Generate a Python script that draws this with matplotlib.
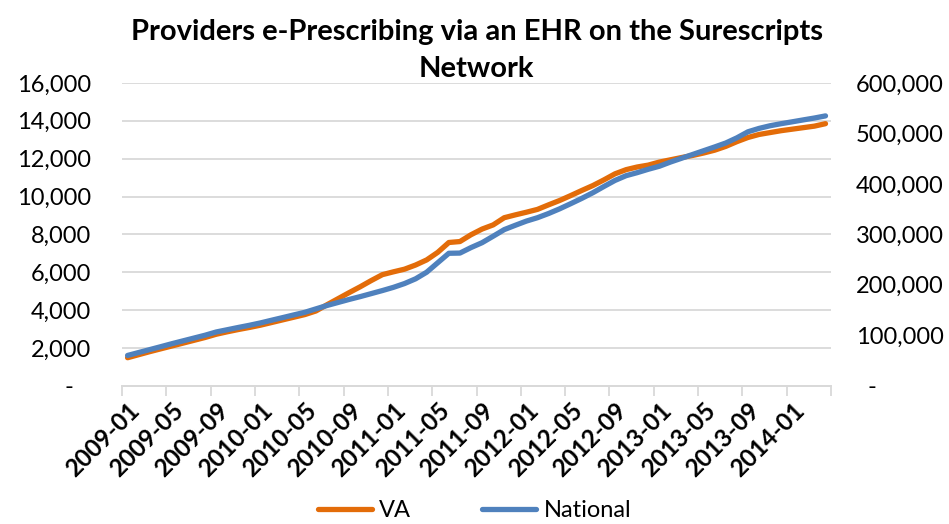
import matplotlib
matplotlib.use("Agg")
import matplotlib.pyplot as plt
import matplotlib.transforms as mtransforms
from matplotlib.ticker import FuncFormatter, MultipleLocator, FixedLocator

plt.rcParams["font.family"] = ["Lato", "DejaVu Sans"]

# monthly values, 2009-01 .. 2014-04
va = [1480, 1640, 1800, 1950, 2100, 2250, 2400, 2550, 2720, 2850,
      2970, 3080, 3200, 3340, 3480, 3620, 3760, 3950, 4280, 4600,
      4920, 5230, 5560, 5870, 6020, 6160, 6380, 6650, 7050, 7570,
      7620, 7980, 8280, 8500, 8880, 9030, 9170, 9320, 9560, 9790,
      10050, 10320, 10580, 10880, 11200, 11420, 11560, 11660, 11820, 11940,
      12060, 12170, 12300, 12450, 12650, 12900, 13120, 13280, 13380, 13480,
      13560, 13640, 13720, 13850]
national = [60000, 65800, 71600, 77400, 83300, 88900, 94500, 100100, 106500, 111000,
            115500, 119800, 124500, 129800, 135000, 140300, 145500, 152300, 159000, 165000,
            171000, 176600, 182600, 188600, 195000, 202500, 211900, 225000, 243800, 262500,
            262900, 273800, 283500, 296300, 309400, 318000, 326300, 333000, 341300, 350600,
            360800, 371300, 382500, 394900, 406900, 416300, 422300, 429000, 435000, 443300,
            450800, 458300, 465800, 473300, 481100, 491300, 503300, 510000, 515300, 519400,
            523100, 526900, 530600, 534800]
tick_labels = ["2009-01", "2009-05", "2009-09", "2010-01", "2010-05", "2010-09",
               "2011-01", "2011-05", "2011-09", "2012-01", "2012-05", "2012-09",
               "2013-01", "2013-05", "2013-09", "2014-01"]

VA_COLOR = "#E36C09"
NAT_COLOR = "#4F81BD"
GRID = "#D9D9D9"
FS = 17

fig = plt.figure(figsize=(9.49, 5.24), dpi=100)
ax = fig.add_axes([0.1286, 0.2639, 0.7471, 0.5777])
ax2 = ax.twinx()

x = list(range(len(va)))
ax.plot(x, va, color=VA_COLOR, lw=3.8, solid_capstyle="round", label="VA")
ax2.plot(x, national, color=NAT_COLOR, lw=3.8, solid_capstyle="round", label="National")

ax.set_xlim(-0.5, len(va) - 0.5)
ax.set_ylim(0, 16000)
ax2.set_ylim(0, 600000)

ax.yaxis.set_major_locator(MultipleLocator(2000))
ax2.yaxis.set_major_locator(MultipleLocator(100000))
ax.yaxis.set_major_formatter(FuncFormatter(lambda v, p: f"{v:,.0f}" if v else "-   "))
ax2.yaxis.set_major_formatter(FuncFormatter(lambda v, p: f"{v:,.0f}" if v else "  -"))
ax.grid(axis="y", color=GRID, lw=1.3)
ax.set_axisbelow(True)

# category axis: labels on every 4th month, tick marks between categories
ax.xaxis.set_major_locator(FixedLocator(list(range(0, len(va), 4))))
ax.set_xticklabels(tick_labels, rotation=45, ha="right", rotation_mode="anchor",
                   fontsize=17.5, fontweight="bold")
shift = mtransforms.ScaledTranslation(6 / 100, 0, fig.dpi_scale_trans)
for lbl in ax.get_xticklabels():
    lbl.set_transform(lbl.get_transform() + shift)
ax.xaxis.set_minor_locator(FixedLocator([i - 0.5 for i in range(0, len(va) + 1, 4)]))
ax.tick_params(axis="x", which="major", length=0, pad=9)
ax.tick_params(axis="x", which="minor", length=7, width=1.3, color=GRID)
ax.tick_params(axis="y", length=0, pad=22, labelsize=FS)
ax2.tick_params(axis="y", length=0, pad=18, labelsize=FS)

for a in (ax, ax2):
    for s in ("top", "left", "right"):
        a.spines[s].set_visible(False)
    a.spines["bottom"].set_color(GRID)
    a.spines["bottom"].set_linewidth(1.3)

ax.set_title("Providers e-Prescribing via an EHR on the Surescripts\nNetwork",
             fontsize=21, fontweight="bold", pad=4, linespacing=1.55)

h1, l1 = ax.get_legend_handles_labels()
h2, l2 = ax2.get_legend_handles_labels()
fig.legend(h1 + h2, l1 + l2, loc="lower center", bbox_to_anchor=(0.5, -0.035),
           ncol=2, frameon=False, fontsize=FS, handlelength=2.3,
           handletextpad=0.3, columnspacing=3.0)

fig.savefig("out.png", dpi=100)
